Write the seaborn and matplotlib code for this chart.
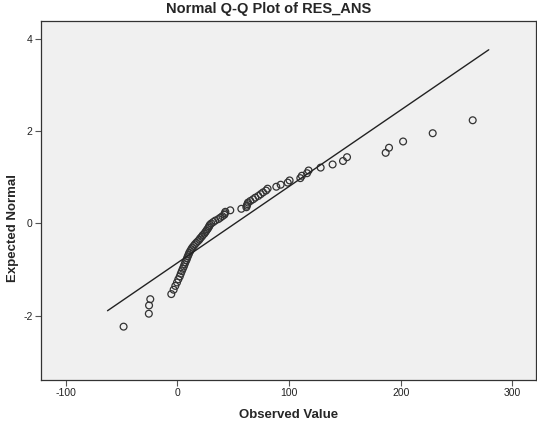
import matplotlib
matplotlib.use('Agg')
import matplotlib.pyplot as plt
import seaborn as sns
import numpy as np
import pandas as pd
from statistics import NormalDist

# observed residuals (sorted)
observed = [-48.1, -25.5, -25.3, -24.2, -5.4, -3.3, -1.8, -0.3, 0.9, 2.2,
            3.1, 4.0, 4.9, 5.8, 6.5, 7.2, 8.1, 8.7, 9.4, 10.1,
            10.7, 11.6, 12.5, 13.4, 14.6, 15.7, 17.0, 18.4, 19.7, 20.6,
            21.9, 22.8, 24.2, 25.1, 26.0, 26.9, 27.8, 28.5, 29.1, 30.4,
            32.2, 34.0, 36.7, 38.5, 40.3, 42.1, 42.5, 43.0, 47.4, 57.3,
            61.8, 62.2, 62.7, 63.3, 65.4, 67.8, 69.8, 72.5, 74.6, 76.7,
            79.4, 80.8, 88.6, 92.5, 98.8, 100.5, 110.1, 111.5, 116.1, 117.5,
            128.3, 139.0, 148.3, 151.9, 186.5, 189.5, 202.1, 228.6, 264.4]

x_ticks = [-100, 0, 100, 200, 300]
y_ticks = [-2, 0, 2, 4]

df = pd.DataFrame({'obs': observed})
n = len(df)
# expected normal (rank/(n+1)), as in the SPSS Q-Q plot
r = df['obs'].rank(method='average')
df['exp'] = [NormalDist().inv_cdf(v / (n + 1)) for v in r]

mu, sd = df['obs'].mean(), df['obs'].std()
ext = 0.046 * (df['obs'].max() - df['obs'].min())
line = pd.DataFrame({'obs': [df['obs'].min() - ext, df['obs'].max() + ext]})
line['exp'] = (line['obs'] - mu) / sd

sns.set_style('white')
plt.rcParams['font.family'] = ['Liberation Sans', 'DejaVu Sans']
plt.rcParams['axes.unicode_minus'] = False

fig = plt.figure(figsize=(5.37, 4.21), dpi=100)
ax = fig.add_axes([0.0764, 0.0974, 0.9216, 0.853])
ax.set_facecolor('#f0f0f0')

sns.lineplot(data=line, x='obs', y='exp', color='#222222', linewidth=1.0, ax=ax)
sns.scatterplot(data=df, x='obs', y='exp', marker='o', s=24, facecolors='none',
                edgecolor='#333333', linewidth=0.9, ax=ax)

ax.set_xlim(-122, 321)
ax.set_ylim(-3.4, 4.4)
ax.set_xticks(x_ticks)
ax.set_yticks(y_ticks)
ax.tick_params(axis='both', direction='out', length=4, width=0.8, color='#555555',
               labelsize=7.5, labelcolor='#222222', pad=2)
ax.xaxis.set_ticks_position('bottom')
ax.yaxis.set_ticks_position('left')
for s in ax.spines.values():
    s.set_color('#333333')
    s.set_linewidth(0.9)

ax.set_xlabel('Observed Value', fontsize=9.5, fontweight='bold', labelpad=8)
ax.set_ylabel('')
fig.text(0.024, 0.458, 'Expected Normal', rotation=90, ha='center', va='center',
         fontsize=9.5, fontweight='bold')
fig.suptitle('Normal Q-Q Plot of RES_ANS', x=0.5, y=0.995, fontsize=10.5, fontweight='bold')

fig.savefig('out.png', dpi=100)
